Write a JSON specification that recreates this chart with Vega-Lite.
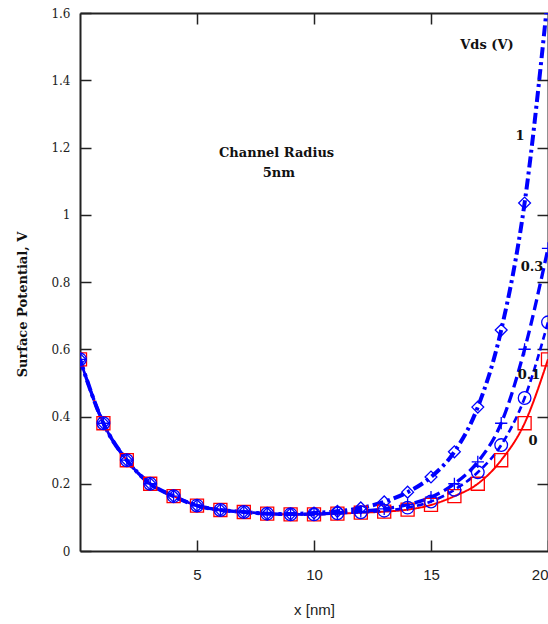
{
  "$schema": "https://vega.github.io/schema/vega-lite/v6.json",
  "autosize": {"type": "none"},
  "padding": {"left": 80, "top": 13, "right": 0, "bottom": 73},
  "width": 468,
  "height": 538,
  "background": "white",
  "config": {"view": {"stroke": null}},
  "datasets": {
    "curves": [
      {"x": 0, "v": 0.57, "s": "0"}, {"x": 1, "v": 0.38, "s": "0"}, {"x": 2, "v": 0.27, "s": "0"}, {"x": 3, "v": 0.2, "s": "0"}, {"x": 4, "v": 0.163, "s": "0"}, {"x": 5, "v": 0.135, "s": "0"}, {"x": 6, "v": 0.122, "s": "0"}, {"x": 7, "v": 0.116, "s": "0"}, {"x": 8, "v": 0.111, "s": "0"}, {"x": 9, "v": 0.109, "s": "0"}, {"x": 10, "v": 0.109, "s": "0"}, {"x": 11, "v": 0.111, "s": "0"}, {"x": 12, "v": 0.114, "s": "0"}, {"x": 13, "v": 0.117, "s": "0"}, {"x": 14, "v": 0.123, "s": "0"}, {"x": 15, "v": 0.137, "s": "0"}, {"x": 16, "v": 0.163, "s": "0"}, {"x": 17, "v": 0.2, "s": "0"}, {"x": 18, "v": 0.27, "s": "0"}, {"x": 19, "v": 0.38, "s": "0"}, {"x": 20, "v": 0.57, "s": "0"},
      {"x": 0, "v": 0.57, "s": "0.1"}, {"x": 1, "v": 0.38, "s": "0.1"}, {"x": 2, "v": 0.27, "s": "0.1"}, {"x": 3, "v": 0.2, "s": "0.1"}, {"x": 4, "v": 0.163, "s": "0.1"}, {"x": 5, "v": 0.135, "s": "0.1"}, {"x": 6, "v": 0.122, "s": "0.1"}, {"x": 7, "v": 0.116, "s": "0.1"}, {"x": 8, "v": 0.111, "s": "0.1"}, {"x": 9, "v": 0.109, "s": "0.1"}, {"x": 10, "v": 0.109, "s": "0.1"}, {"x": 11, "v": 0.112, "s": "0.1"}, {"x": 12, "v": 0.115, "s": "0.1"}, {"x": 13, "v": 0.12, "s": "0.1"}, {"x": 14, "v": 0.129, "s": "0.1"}, {"x": 15, "v": 0.147, "s": "0.1"}, {"x": 16, "v": 0.182, "s": "0.1"}, {"x": 17, "v": 0.234, "s": "0.1"}, {"x": 18, "v": 0.315, "s": "0.1"}, {"x": 19, "v": 0.455, "s": "0.1"}, {"x": 20, "v": 0.68, "s": "0.1"},
      {"x": 0, "v": 0.57, "s": "0.3"}, {"x": 1, "v": 0.38, "s": "0.3"}, {"x": 2, "v": 0.27, "s": "0.3"}, {"x": 3, "v": 0.2, "s": "0.3"}, {"x": 4, "v": 0.163, "s": "0.3"}, {"x": 5, "v": 0.135, "s": "0.3"}, {"x": 6, "v": 0.122, "s": "0.3"}, {"x": 7, "v": 0.116, "s": "0.3"}, {"x": 8, "v": 0.111, "s": "0.3"}, {"x": 9, "v": 0.109, "s": "0.3"}, {"x": 10, "v": 0.11, "s": "0.3"}, {"x": 11, "v": 0.113, "s": "0.3"}, {"x": 12, "v": 0.118, "s": "0.3"}, {"x": 13, "v": 0.125, "s": "0.3"}, {"x": 14, "v": 0.138, "s": "0.3"}, {"x": 15, "v": 0.16, "s": "0.3"}, {"x": 16, "v": 0.2, "s": "0.3"}, {"x": 17, "v": 0.265, "s": "0.3"}, {"x": 18, "v": 0.38, "s": "0.3"}, {"x": 19, "v": 0.6, "s": "0.3"}, {"x": 20, "v": 0.9, "s": "0.3"},
      {"x": 0, "v": 0.57, "s": "1"}, {"x": 1, "v": 0.38, "s": "1"}, {"x": 2, "v": 0.27, "s": "1"}, {"x": 3, "v": 0.2, "s": "1"}, {"x": 4, "v": 0.163, "s": "1"}, {"x": 5, "v": 0.135, "s": "1"}, {"x": 6, "v": 0.122, "s": "1"}, {"x": 7, "v": 0.116, "s": "1"}, {"x": 8, "v": 0.111, "s": "1"}, {"x": 9, "v": 0.11, "s": "1"}, {"x": 10, "v": 0.113, "s": "1"}, {"x": 11, "v": 0.118, "s": "1"}, {"x": 12, "v": 0.128, "s": "1"}, {"x": 13, "v": 0.146, "s": "1"}, {"x": 14, "v": 0.175, "s": "1"}, {"x": 15, "v": 0.22, "s": "1"}, {"x": 16, "v": 0.295, "s": "1"}, {"x": 17, "v": 0.428, "s": "1"}, {"x": 18, "v": 0.657, "s": "1"}, {"x": 19, "v": 1.035, "s": "1"}, {"x": 20, "v": 1.65, "s": "1"}
    ],
    "notes": [
      {"x": 8.4, "v": 1.184, "t": "Channel Radius"},
      {"x": 8.5, "v": 1.124, "t": "5nm"},
      {"x": 17.39, "v": 1.505, "t": "Vds (V)"},
      {"x": 18.8, "v": 1.234, "t": "1"},
      {"x": 19.32, "v": 0.845, "t": "0.3"},
      {"x": 19.19, "v": 0.523, "t": "0.1"},
      {"x": 19.36, "v": 0.327, "t": "0"}
    ]
  },
  "resolve": {"axis": {"x": "independent", "y": "independent"}},
  "layer": [
    {
      "data": {"name": "curves"},
      "mark": {"type": "line", "interpolate": "monotone", "clip": true},
      "encoding": {
        "x": {
          "field": "x", "type": "quantitative",
          "scale": {"domain": [0, 20], "nice": false, "zero": false},
          "axis": {
            "values": [5, 10, 15, 20], "title": "x [nm]", "grid": false,
            "domainColor": "#222", "domainWidth": 2, "tickColor": "#222", "tickWidth": 1.5, "tickSize": -11,
            "labelPadding": 27, "labelFont": "Liberation Sans", "labelFontSize": 15, "labelColor": "#222",
            "titleFont": "Liberation Sans", "titleFontSize": 15, "titleFontWeight": "normal", "titleColor": "#222",
            "titleBaseline": "middle", "titleY": 58, "titleX": 234
          }
        },
        "y": {
          "field": "v", "type": "quantitative",
          "scale": {"domain": [0, 1.6], "nice": false, "zero": false},
          "axis": {
            "values": [0, 0.2, 0.4, 0.6, 0.8, 1, 1.2, 1.4, 1.6], "format": "~g", "title": "Surface Potential, V", "grid": false,
            "domainColor": "#222", "domainWidth": 2, "tickColor": "#222", "tickWidth": 1.5, "tickSize": -11,
            "labelPadding": 21, "labelFont": "DejaVu Serif", "labelFontSize": 12, "labelColor": "#222",
            "titleFont": "DejaVu Serif", "titleFontSize": 13, "titleFontWeight": "bold", "titleColor": "#111",
            "titleAngle": -90, "titleBaseline": "middle", "titleX": -58, "titleY": 291
          }
        },
        "color": {"field": "s", "type": "nominal", "scale": {"domain": ["0", "0.1", "0.3", "1"], "range": ["#ff0000", "#0000ff", "#0000ff", "#0000ff"]}, "legend": null},
        "strokeDash": {"field": "s", "type": "nominal", "scale": {"domain": ["0", "0.1", "0.3", "1"], "range": [[1, 0], [7, 4], [11, 5], [11, 4, 3, 4]]}, "legend": null},
        "strokeWidth": {"field": "s", "type": "ordinal", "scale": {"domain": ["0", "0.1", "0.3", "1"], "range": [2, 4, 4, 4]}, "legend": null}
      }
    },
    {
      "data": {"name": "curves"},
      "mark": {"type": "point", "filled": false, "strokeWidth": 1.3, "clip": true, "opacity": 1},
      "encoding": {
        "x": {"field": "x", "type": "quantitative", "axis": null},
        "y": {"field": "v", "type": "quantitative", "axis": null},
        "color": {"field": "s", "type": "nominal", "scale": {"domain": ["0", "0.1", "0.3", "1"], "range": ["#ff0000", "#0000ff", "#0000ff", "#0000ff"]}, "legend": null},
        "shape": {"field": "s", "type": "nominal", "scale": {"domain": ["0", "0.1", "0.3", "1"], "range": ["square", "circle", "M-1,0L1,0M0,-1L0,1", "diamond"]}, "legend": null},
        "size": {"field": "s", "type": "ordinal", "scale": {"domain": ["0", "0.1", "0.3", "1"], "range": [170, 140, 225, 230]}, "legend": null}
      }
    },
    {
      "data": {"name": "notes"},
      "mark": {"type": "text", "font": "DejaVu Serif", "fontWeight": "bold", "fontSize": 13, "color": "#111", "align": "center", "baseline": "middle"},
      "encoding": {
        "x": {"field": "x", "type": "quantitative", "axis": {"orient": "top", "labels": false, "title": null, "grid": false, "values": [5, 10, 15], "domainColor": "#222", "domainWidth": 2, "tickColor": "#222", "tickWidth": 1.5, "tickSize": -11}},
        "y": {"field": "v", "type": "quantitative", "axis": {"orient": "right", "labels": false, "title": null, "grid": false, "values": [0.2, 0.4, 0.6, 0.8, 1, 1.2, 1.4], "domainColor": "#222", "domainWidth": 2, "tickColor": "#222", "tickWidth": 1.5, "tickSize": -11}},
        "text": {"field": "t", "type": "nominal"}
      }
    }
  ]
}
